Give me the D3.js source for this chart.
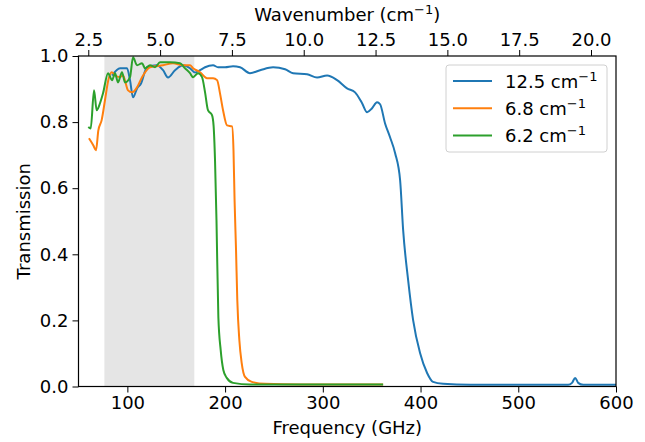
<!DOCTYPE html>
<html>
<head>
<meta charset="utf-8">
<script src="https://cdn.jsdelivr.net/npm/d3@7"></script>
<style>
  body { margin: 0; background: #fff; }
  svg text { font-family: "DejaVu Sans", sans-serif; fill: #000; }
</style>
</head>
<body>
<div id="chart"></div>
<script>
// filter transmission curves, frequency in GHz
const blue125 = [
  [84.3, 0.941], [92.5, 0.963], [99.6, 0.963], [102.7, 0.927], [105.8, 0.875],
  [109.9, 0.902], [114.0, 0.917], [120.1, 0.966], [130.3, 0.972], [136.5, 0.957],
  [141.6, 0.935], [148.8, 0.957], [157.0, 0.972], [164.1, 0.963], [169.2, 0.950],
  [174.4, 0.957], [179.5, 0.966], [187.7, 0.972], [192.8, 0.966], [200.0, 0.966],
  [208.1, 0.969], [215.3, 0.966], [225.5, 0.948], [235.8, 0.957], [249.1, 0.966],
  [261.4, 0.960], [269.6, 0.948], [283.9, 0.945], [294.1, 0.935], [304.4, 0.941],
  [314.6, 0.927], [324.8, 0.902], [333.0, 0.890], [340.2, 0.857], [345.3, 0.830],
  [350.4, 0.842], [355.5, 0.860], [358.6, 0.854], [363.7, 0.796], [368.8, 0.754],
  [374.0, 0.706], [379.1, 0.624], [382.2, 0.473], [387.3, 0.322], [392.4, 0.201],
  [399.5, 0.101], [406.7, 0.041], [412.8, 0.014], [423.1, 0.008], [450.7, 0.005],
  [501.9, 0.005], [551.0, 0.005], [555.0, 0.011], [558.2, 0.026], [561.3, 0.011],
  [566.4, 0.005], [600.0, 0.005]
];
const orange68 = [
  [60.7, 0.751], [65.1, 0.730], [67.9, 0.715], [70.3, 0.775], [73.7, 0.806],
  [77.1, 0.866], [80.5, 0.927], [84.0, 0.951], [87.4, 0.941], [92.5, 0.936],
  [95.5, 0.941], [100.7, 0.896], [104.8, 0.890], [109.9, 0.905], [115.0, 0.936],
  [123.2, 0.966], [136.5, 0.972], [146.7, 0.978], [157.0, 0.972], [164.1, 0.972],
  [167.2, 0.963], [174.4, 0.951], [181.5, 0.933], [187.7, 0.933], [191.8, 0.927],
  [194.8, 0.887], [197.9, 0.836], [202.0, 0.790], [207.1, 0.787], [208.6, 0.715],
  [209.7, 0.564], [211.2, 0.412], [212.5, 0.261], [214.6, 0.140], [217.0, 0.071],
  [220.4, 0.029], [227.3, 0.014], [240.9, 0.008], [276.7, 0.006], [361.7, 0.006]
];
const green62 = [
  [60.0, 0.785], [62.5, 0.781], [65.9, 0.896], [68.6, 0.836], [72.0, 0.857],
  [75.1, 0.887], [80.2, 0.948], [84.3, 0.927], [87.4, 0.948], [90.4, 0.920],
  [94.5, 0.951], [97.6, 0.920], [102.7, 0.936], [105.8, 0.996], [109.9, 0.972],
  [115.0, 0.978], [118.1, 0.963], [123.2, 0.972], [128.3, 0.966], [133.4, 0.981],
  [143.7, 0.981], [153.9, 0.978], [159.0, 0.963], [164.1, 0.948], [167.2, 0.936],
  [172.3, 0.948], [176.4, 0.936], [179.5, 0.890], [182.5, 0.836], [186.6, 0.821],
  [188.2, 0.790], [189.7, 0.684], [191.2, 0.503], [193.1, 0.210], [195.5, 0.110],
  [198.2, 0.050], [201.7, 0.026], [208.1, 0.011], [225.5, 0.006], [361.7, 0.006]
];
const seriesNames = ["12.5", "6.8", "6.2"];
const seriesColors = ["#1f77b4", "#ff7f0e", "#2ca02c"];
const shadedBand = [76.5, 168.5];
const freqTicks = [100, 200, 300, 400, 500, 600];
const waveTicks = [2.5, 5.0, 7.5, 10.0, 12.5, 15.0, 17.5, 20.0];
const transTicks = [0, 0.2, 0.4, 0.6, 0.8, 1.0];

const W = 645, H = 442;
const margin = {top: 56, right: 29, bottom: 55.5, left: 78.5};
const width = W - margin.left - margin.right,
      height = H - margin.top - margin.bottom;

const svg = d3.select("#chart").append("svg")
  .attr("width", W).attr("height", H);
const g = svg.append("g")
  .attr("transform", "translate(" + margin.left + "," + margin.top + ")");

const x = d3.scaleLinear().domain([50, 600]).range([0, width]);
const xTop = d3.scaleLinear().domain([2.16, 20.87]).range([0, width]);
const y = d3.scaleLinear().domain([0, 1]).range([height, 0]);

g.append("rect")
  .attr("x", x(shadedBand[0])).attr("y", 0)
  .attr("width", x(shadedBand[1]) - x(shadedBand[0]))
  .attr("height", height)
  .attr("fill", "#e5e5e5");

const line = d3.line()
  .x(function(d) { return x(d[0]) })
  .y(function(d) { return y(d[1]) })
  .curve(d3.curveMonotoneX);

[blue125, orange68, green62].forEach(function(s, i) {
  g.append("path")
    .datum(s)
    .attr("fill", "none")
    .attr("stroke", seriesColors[i])
    .attr("stroke-width", 2)
    .attr("stroke-linejoin", "round")
    .attr("d", line);
});

function styleAxis(sel) {
  sel.select(".domain").remove();
  sel.selectAll(".tick line").attr("stroke", "#000").attr("stroke-width", 1);
  sel.selectAll(".tick text")
    .style("font-family", "DejaVu Sans, sans-serif")
    .style("font-size", "18px").attr("fill", "#000");
}

g.append("g")
  .attr("transform", "translate(0," + height + ")")
  .call(d3.axisBottom(x).tickValues(freqTicks).tickFormat(d3.format("d"))
    .tickSize(6).tickPadding(4))
  .call(styleAxis);

g.append("g")
  .call(d3.axisTop(xTop).tickValues(waveTicks).tickFormat(d3.format(".1f"))
    .tickSize(6).tickPadding(4))
  .call(styleAxis);

g.append("g")
  .call(d3.axisLeft(y).tickValues(transTicks).tickFormat(d3.format(".1f"))
    .tickSize(6).tickPadding(4))
  .call(styleAxis);

// frame
g.append("rect")
  .attr("width", width).attr("height", height)
  .attr("fill", "none").attr("stroke", "#000").attr("stroke-width", 1.2);

// labels
g.append("text")
  .attr("x", width / 2).attr("y", height + 47)
  .attr("text-anchor", "middle").style("font-size", "18px")
  .text("Frequency (GHz)");

g.append("text")
  .attr("transform", "translate(" + (-49) + "," + (height / 2) + ") rotate(-90)")
  .attr("text-anchor", "middle").style("font-size", "18px")
  .text("Transmission");

const topLabel = g.append("text")
  .attr("x", width / 2).attr("y", -35)
  .attr("text-anchor", "middle").style("font-size", "18px");
topLabel.append("tspan").text("Wavenumber (cm");
topLabel.append("tspan").attr("dy", -7).style("font-size", "13px").text("\u22121");
topLabel.append("tspan").attr("dy", 7).text(")");

// legend
const legX = 446 - margin.left, legY = 65 - margin.top;
g.append("rect")
  .attr("x", legX).attr("y", legY)
  .attr("width", 161).attr("height", 87)
  .attr("rx", 3)
  .attr("fill", "#fff").attr("fill-opacity", 0.8)
  .attr("stroke", "#d0d0d0").attr("stroke-width", 1);

seriesNames.forEach(function(name, i) {
  const ry = legY + 16 + i * 27.2;
  g.append("line")
    .attr("x1", legX + 7).attr("x2", legX + 46)
    .attr("y1", ry).attr("y2", ry)
    .attr("stroke", seriesColors[i]).attr("stroke-width", 2);
  const t = g.append("text")
    .attr("x", legX + 59).attr("y", ry + 6.5)
    .style("font-size", "18px");
  t.append("tspan").text(name + " cm");
  t.append("tspan").attr("dy", -7).style("font-size", "13px").text("\u22121");
});
</script>
</body>
</html>
